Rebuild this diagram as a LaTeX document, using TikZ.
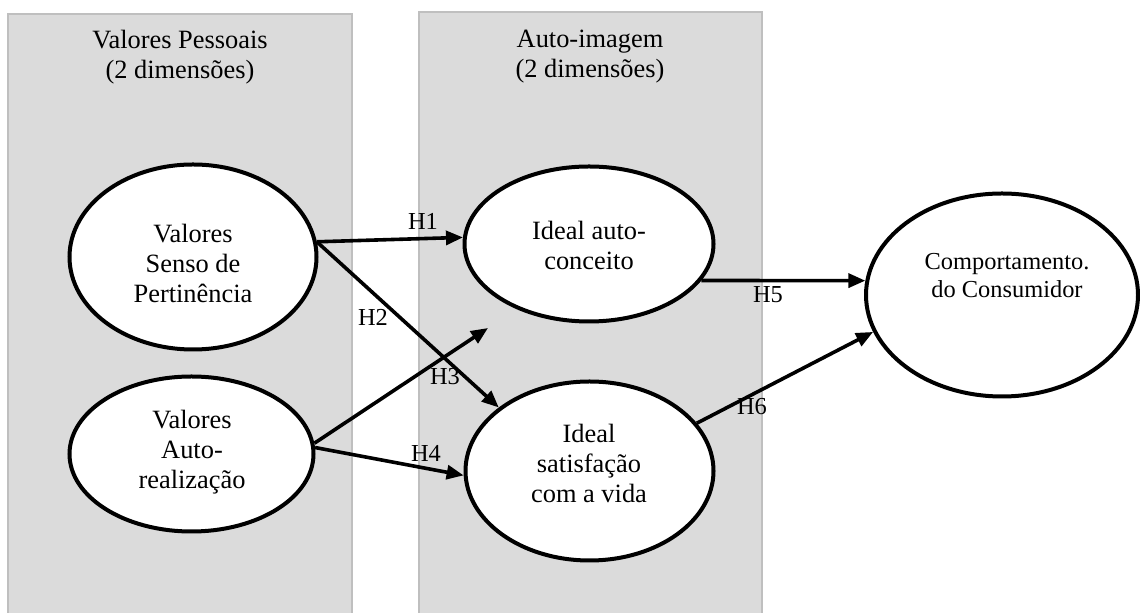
\documentclass[tikz,border=0pt]{standalone}
\usepackage{fontspec}
\setmainfont{Liberation Serif}
\usetikzlibrary{shapes.geometric,arrows.meta}

\tikzset{
  painel/.style={draw=black!25, fill=black!14, line width=0.6pt},
  construto/.style={ellipse, draw, fill=white, line width=2pt, inner sep=0pt},
  rotulo/.style={align=center, font=\fontsize{13.2}{15}\selectfont},
  rotulopeq/.style={align=center, font=\fontsize{12.2}{14}\selectfont},
  hip/.style={line width=1.8pt, -{Triangle[length=8.5pt,width=7pt]}},
  hlabel/.style={font=\fontsize{12.2}{13}\selectfont, inner sep=0pt},
}

\begin{document}
\begin{tikzpicture}[x=0.5pt,y=-0.5pt]
				\useasboundingbox (0,0) rectangle (1140,613);
				\clip (0,0) rectangle (1140,613);
				% paineis
				\draw[painel] (8,14) rectangle (352,640);
				\draw[painel] (419,12) rectangle (762,640);
				\node[rotulo] (tit-val) at (180,57) {Valores Pessoais\\(2 dimens\~oes)};
				\node[rotulo] (tit-img) at (590,57) {Auto-imagem\\(2 dimens\~oes)};
				% construtos
				\node[construto, minimum width=123.5pt, minimum height=92.5pt] (pert) at (193,257) {};
				\node[construto, minimum width=122pt, minimum height=77.5pt] (real) at (191.5,454) {};
				\node[construto, minimum width=124.5pt, minimum height=77.5pt] (auto) at (589,244) {};
				\node[construto, minimum width=124pt, minimum height=89.5pt] (sat) at (589.5,471) {};
				\node[construto, minimum width=136pt, minimum height=101.5pt] (cons) at (1002,295) {};
				\node[rotulo] (pert-t) at (193,263) {Valores\\Senso de\\Pertin\^encia};
				\node[rotulo] (real-t) at (192,452) {Valores\\Auto-\\realiza\c{c}\~ao};
				\node[rotulo] (auto-t) at (589,245) {Ideal auto-\\conceito};
				\node[rotulo] (sat-t) at (589,463) {Ideal\\satisfa\c{c}\~ao\\com a vida};
				\node[rotulopeq] (cons-t) at (1007,276) {Comportamento.\\do Consumidor};
				% hipoteses
				\coordinate (h3fim) at (488,328);
				\draw[hip] (pert.7) -- (auto.177);
				\draw[hip] (pert.7) -- (sat.145);
				\draw[hip] (real.5) -- (h3fim);
				\draw[hip] (real.3) -- (sat.182);
				\draw[hip] (auto.-18) -- (cons.174);
				\draw[hip] (sat.24) -- (cons.196);
				\node[hlabel] (h1) at (423,221) {H1};
				\node[hlabel] (h2) at (373,317) {H2};
				\node[hlabel] (h3) at (445,377) {H3};
				\node[hlabel] (h4) at (426,453) {H4};
				\node[hlabel] (h5) at (768,295) {H5};
				\node[hlabel] (h6) at (752,407) {H6};
			\end{tikzpicture}
\end{document}
